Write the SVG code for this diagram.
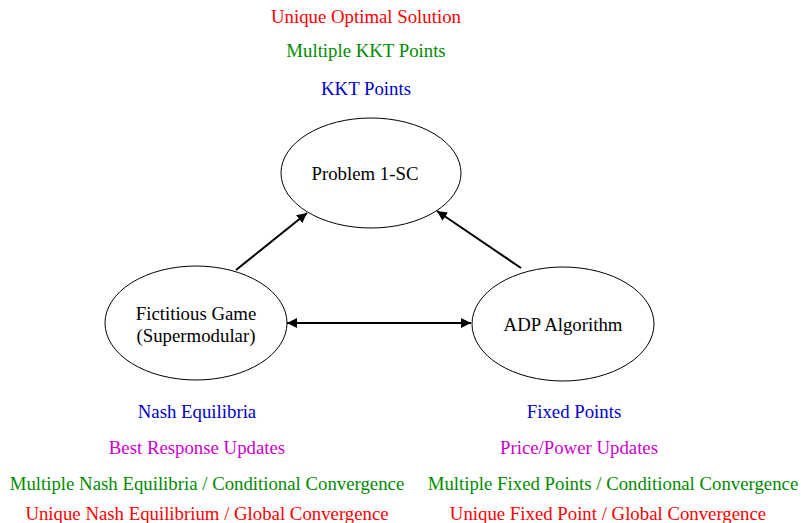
<svg xmlns="http://www.w3.org/2000/svg" width="801" height="523" viewBox="0 0 801 523">
<defs>
<marker id="ah" viewBox="0 0 10 10" refX="10" refY="5" markerWidth="10" markerHeight="10" markerUnits="userSpaceOnUse" orient="auto-start-reverse">
<path d="M0,0 L10,5 L0,10 z" fill="#000"/>
</marker>
<style>
text{font-family:"Liberation Serif","Times New Roman",serif;font-size:18.8px;text-anchor:middle}
.n ellipse{fill:#fff;stroke:#000;stroke-width:1}
.n text{fill:#000}
.c line{stroke:#000;stroke-width:2}
.r{fill:#ff0000}.g{fill:#008b00}.b{fill:#0000cd}.m{fill:#cd00cd}
</style>
</defs>
<rect width="801" height="523" fill="#fff"/>
<g id="labels-top">
<text class="r" x="366" y="23">Unique Optimal Solution</text>
<text class="g" x="366" y="57">Multiple KKT Points</text>
<text class="b" x="366" y="95">KKT Points</text>
</g>
<g id="labels-left">
<text class="b" x="197" y="418">Nash Equilibria</text>
<text class="m" x="197" y="454">Best Response Updates</text>
<text class="g" x="207" y="490">Multiple Nash Equilibria / Conditional Convergence</text>
<text class="r" x="207" y="520">Unique Nash Equilibrium / Global Convergence</text>
</g>
<g id="labels-right">
<text class="b" x="574" y="418">Fixed Points</text>
<text class="m" x="579" y="454">Price/Power Updates</text>
<text class="g" x="613" y="490">Multiple Fixed Points / Conditional Convergence</text>
<text class="r" x="608" y="520">Unique Fixed Point / Global Convergence</text>
</g>
<g id="connectors" class="c">
<line x1="236" y1="270" x2="307" y2="213" marker-end="url(#ah)"/>
<line x1="521" y1="268" x2="437" y2="211" marker-end="url(#ah)"/>
<line x1="287" y1="323" x2="471" y2="323" marker-start="url(#ah)" marker-end="url(#ah)"/>
</g>
<g id="problem" class="n">
<ellipse cx="371" cy="173" rx="90" ry="55"/>
<text x="365" y="180">Problem 1-SC</text>
</g>
<g id="game" class="n">
<ellipse cx="196" cy="323" rx="91" ry="57"/>
<text x="196" y="320">Fictitious Game</text>
<text x="196" y="342">(Supermodular)</text>
</g>
<g id="adp" class="n">
<ellipse cx="563" cy="324" rx="91" ry="57"/>
<text x="563" y="331">ADP Algorithm</text>
</g>
</svg>
